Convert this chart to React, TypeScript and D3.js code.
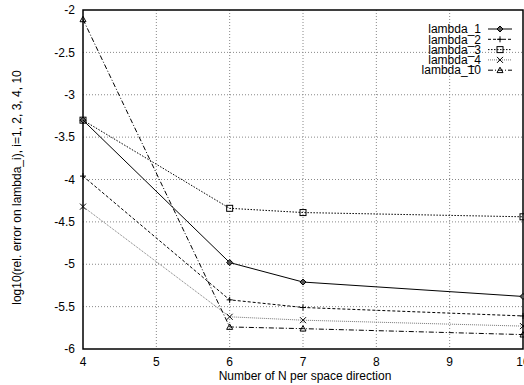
import React from 'react';
import * as d3 from 'd3';

const nValues = [4, 6, 7, 10];
const lambda1 = [-3.3, -4.98, -5.21, -5.38];
const lambda2 = [-3.96, -5.42, -5.51, -5.61];
const lambda3 = [-3.3, -4.34, -4.39, -4.44];
const lambda4 = [-4.32, -5.62, -5.66, -5.73];
const lambda10 = [-2.11, -5.74, -5.76, -5.83];
const xTicks = [4, 5, 6, 7, 8, 9, 10];
const yTicks = [-2, -2.5, -3, -3.5, -4, -4.5, -5, -5.5, -6];

type Marker = 'diamond' | 'plus' | 'square' | 'cross' | 'triangle';

const series: { name: string; values: number[]; dash: string; color: string; marker: Marker }[] = [
  { name: 'lambda_1', values: lambda1, dash: '', color: '#000', marker: 'diamond' },
  { name: 'lambda_2', values: lambda2, dash: '3,2', color: '#000', marker: 'plus' },
  { name: 'lambda_3', values: lambda3, dash: '1.5,1.5', color: '#000', marker: 'square' },
  { name: 'lambda_4', values: lambda4, dash: '1,1', color: '#777', marker: 'cross' },
  { name: 'lambda_10', values: lambda10, dash: '5,2,1,2', color: '#000', marker: 'triangle' },
];

const MarkerShape: React.FC<{ type: Marker; x: number; y: number }> = ({ type, x, y }) => {
  const s = 3;
  const common = { fill: 'none', stroke: '#000', strokeWidth: 1 };
  switch (type) {
    case 'diamond':
      return <path d={`M${x},${y - s} L${x + s},${y} L${x},${y + s} L${x - s},${y} Z`} {...common} fill="#555" />;
    case 'plus':
      return <path d={`M${x - s},${y} H${x + s} M${x},${y - s} V${y + s}`} {...common} />;
    case 'square':
      return <rect x={x - s} y={y - s} width={2 * s} height={2 * s} {...common} />;
    case 'cross':
      return <path d={`M${x - s},${y - s} L${x + s},${y + s} M${x - s},${y + s} L${x + s},${y - s}`} {...common} />;
    case 'triangle':
      return <path d={`M${x},${y - s} L${x + s},${y + s * 0.8} L${x - s},${y + s * 0.8} Z`} {...common} />;
  }
};

const App: React.FC = () => {
  const width = 524;
  const height = 385;
  const left = 83;
  const right = 523;
  const top = 10;
  const bottom = 349;

  const x = d3.scaleLinear().domain([4, 10]).range([left, right]);
  const y = d3.scaleLinear().domain([-6, -2]).range([bottom, top]);

  const line = d3.line<number>()
    .x((_, i) => x(nValues[i]))
    .y(d => y(d));

  const font = 'Liberation Sans, Arial, sans-serif';

  return (
    <svg width={width} height={height} style={{ position: 'absolute', left: 0, top: 0, background: '#fff' }}
      fontFamily={font}>
      {/* grid */}
      {xTicks.slice(1, -1).map(t => (
        <line key={`gx${t}`} x1={x(t)} x2={x(t)} y1={top} y2={bottom} stroke="#888" strokeWidth={1} strokeDasharray="1,2" />
      ))}
      {yTicks.slice(1, -1).map(t => (
        <line key={`gy${t}`} x1={left} x2={right} y1={y(t)} y2={y(t)} stroke="#888" strokeWidth={1} strokeDasharray="1,2" />
      ))}

      {/* frame */}
      <rect x={left} y={top} width={right - left} height={bottom - top} fill="none" stroke="#000" strokeWidth={1.5} />

      {/* ticks */}
      {yTicks.map(t => (
        <text key={`ty${t}`} x={left - 8} y={y(t)} dy="0.35em" textAnchor="end" fontSize={12}>{t}</text>
      ))}
      {xTicks.map(t => (
        <text key={`tx${t}`} x={x(t)} y={366} textAnchor="middle" fontSize={12}>{t}</text>
      ))}

      <text x={(left + right) / 2 + 2} y={380} textAnchor="middle" fontSize={12}>Number of N per space direction</text>
      <text transform={`translate(21, ${(top + bottom) / 2 + 8}) rotate(-90)`} textAnchor="middle" fontSize={12}>
        log10(rel. error on lambda_i), i=1, 2, 3, 4, 10
      </text>

      {/* series */}
      {series.map(s => (
        <g key={s.name}>
          <path d={line(s.values) || ''} fill="none" stroke={s.color} strokeWidth={1} strokeDasharray={s.dash || undefined} />
          {s.values.map((v, i) => (
            <MarkerShape key={i} type={s.marker} x={x(nValues[i])} y={y(v)} />
          ))}
        </g>
      ))}

      {/* legend */}
      {series.map((s, i) => {
        const ly = 29 + i * 10.3;
        return (
          <g key={`lg${s.name}`}>
            <text x={481} y={ly} dy="0.35em" textAnchor="end" fontSize={12}>{s.name}</text>
            <line x1={488} x2={512} y1={ly} y2={ly} stroke={s.color} strokeDasharray={s.dash || undefined} />
            <MarkerShape type={s.marker} x={500} y={ly} />
          </g>
        );
      })}
    </svg>
  );
};

export default App;
